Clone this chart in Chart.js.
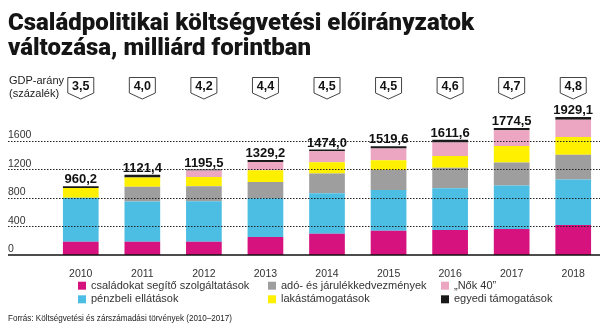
<!DOCTYPE html>
<html>
<head>
<meta charset="utf-8">
<script src="https://cdn.jsdelivr.net/npm/chart.js@4"></script>
<style>
html, body { margin: 0; padding: 0; background: #fff; }
canvas { display: block; }
</style>
</head>
<body>
<canvas id="myChart" width="609" height="333"></canvas>
<script>
const years = ['2010', '2011', '2012', '2013', '2014', '2015', '2016', '2017', '2018'];
const familyServices = [186, 186, 186, 252, 296, 338, 351, 365, 421];
const cashBenefits = [613, 562, 567, 543, 566, 570, 582, 606, 634];
const taxCredits = [0, 207, 209, 226, 278, 282, 286, 323, 346];
const housing = [139, 129, 130, 165, 157, 134, 166, 230, 250];
const women40 = [0, 0, 90, 115, 153, 167, 189, 222, 241];
const individual = [22.2, 37.4, 13.5, 28.2, 24, 28.6, 37.6, 28.5, 37.1];
const totals = [960.2, 1121.4, 1195.5, 1329.2, 1474.0, 1519.6, 1611.6, 1774.5, 1929.1];
const gdpShare = [3.5, 4.0, 4.2, 4.4, 4.5, 4.5, 4.6, 4.7, 4.8];
const yTicks = [0, 400, 800, 1200, 1600];

const fmt = v => v.toFixed(1).replace('.', ',');
const ctx = document.getElementById('myChart').getContext('2d');

const extras = {
    id: 'extras',
    afterDatasetsDraw(chart) {
        const c = chart.ctx;
        const y = chart.scales.y;
        c.save();
        // dotted grid lines over the bars
        c.strokeStyle = '#222';
        c.lineWidth = 1;
        c.setLineDash([1.5, 1.5]);
        yTicks.filter(v => v > 0).forEach(v => {
            const py = Math.round(y.getPixelForValue(v)) + 0.5;
            c.beginPath();
            c.moveTo(8, py);
            c.lineTo(600, py);
            c.stroke();
        });
        c.setLineDash([]);
        c.strokeStyle = '#111';
        c.lineWidth = 1.5;
        const p0 = y.getPixelForValue(0);
        c.beginPath();
        c.moveTo(8, p0);
        c.lineTo(600, p0);
        c.stroke();
        c.restore();
    },
    afterDraw(chart) {
        const c = chart.ctx;
        const x = chart.scales.x;
        const y = chart.scales.y;
        c.save();

        // title
        const t1 = 'Családpolitikai költségvetési előirányzatok';
        const t2 = 'változása, milliárd forintban';
        c.fillStyle = '#151515';
        c.font = '900 24px Roboto, "Liberation Sans", sans-serif';
        c.textAlign = 'left';
        c.textBaseline = 'alphabetic';
        const k = 515 / c.measureText(t1).width;
        c.fillText(t1, 8, 29.5, 515);
        c.fillText(t2, 8, 55, c.measureText(t2).width * k);

        // GDP label
        c.font = '11px "Liberation Sans", sans-serif';
        c.fillStyle = '#222';
        c.textBaseline = 'middle';
        c.fillText('GDP-arány', 9, 81);
        c.fillText('(százalék)', 9, 94);

        // GDP badges and totals
        years.forEach((yr, i) => {
            const px = x.getPixelForValue(i);
            c.beginPath();
            c.moveTo(px - 13, 77.5);
            c.lineTo(px + 13, 77.5);
            c.lineTo(px + 13, 93);
            c.lineTo(px, 99);
            c.lineTo(px - 13, 93);
            c.closePath();
            c.fillStyle = '#fff';
            c.fill();
            c.strokeStyle = '#444';
            c.lineWidth = 1;
            c.stroke();
            c.fillStyle = '#111';
            c.font = 'bold 12.5px "Liberation Sans", sans-serif';
            c.textAlign = 'center';
            c.textBaseline = 'middle';
            c.fillText(fmt(gdpShare[i]), px, 86.5);

            c.font = 'bold 13px "Liberation Sans", sans-serif';
            c.textBaseline = 'alphabetic';
            c.fillText(fmt(totals[i]), px, y.getPixelForValue(totals[i]) - 3);
        });

        // legend, three columns
        const colX = [78, 268, 441];
        const rowY = [285.7, 299.3];
        c.font = '11px "Liberation Sans", sans-serif';
        c.textAlign = 'left';
        c.textBaseline = 'middle';
        chart.data.datasets.forEach((ds, i) => {
            const lx = colX[Math.floor(i / 2)];
            const ly = rowY[i % 2];
            c.fillStyle = ds.backgroundColor;
            c.fillRect(lx, ly - 4, 8, 8);
            c.fillStyle = '#333';
            c.fillText(ds.label, lx + 13, ly);
        });

        // source
        c.font = '9.5px "Liberation Sans Narrow", "Liberation Sans", sans-serif';
        c.fillStyle = '#222';
        c.fillText('Forrás: Költségvetési és zárszámadási törvények (2010–2017)', 8, 318.5, 224);
        c.restore();
    }
};

const myChart = new Chart(ctx, {
    type: 'bar',
    data: {
        labels: years,
        datasets: [
            { label: 'családokat segítő szolgáltatások', data: familyServices, backgroundColor: '#d5127e' },
            { label: 'pénzbeli ellátások', data: cashBenefits, backgroundColor: '#4dbee3' },
            { label: 'adó- és járulékkedvezmények', data: taxCredits, backgroundColor: '#9e9e9e' },
            { label: 'lakástámogatások', data: housing, backgroundColor: '#fff000' },
            { label: '„Nők 40”', data: women40, backgroundColor: '#eca6c1' },
            { label: 'egyedi támogatások', data: individual, backgroundColor: '#1a1a1a' }
        ]
    },
    options: {
        responsive: false,
        animation: false,
        devicePixelRatio: 1,
        layout: { padding: { left: 8, right: 5, top: 112, bottom: 0 } },
        datasets: { bar: { categoryPercentage: 1, barPercentage: 0.58 } },
        plugins: {
            legend: { display: false },
            tooltip: { enabled: false }
        },
        scales: {
            x: {
                stacked: true,
                grid: { display: false },
                border: { display: false },
                ticks: {
                    color: '#333',
                    font: { size: 10.5, family: '"Liberation Sans", sans-serif' },
                    padding: 5,
                    maxRotation: 0
                },
                afterFit: s => { s.height = 78; }
            },
            y: {
                stacked: true,
                min: 0,
                max: 2000,
                grid: { display: false },
                border: { display: false },
                afterBuildTicks: s => { s.ticks = yTicks.map(v => ({ value: v })); },
                ticks: {
                    color: '#333',
                    font: { size: 10.5, family: '"Liberation Sans", sans-serif' },
                    crossAlign: 'far',
                    padding: 0,
                    labelOffset: -5.5,
                    callback: v => String(v)
                },
                afterFit: s => { s.width = 42; }
            }
        }
    },
    plugins: [extras]
});
</script>
</body>
</html>
